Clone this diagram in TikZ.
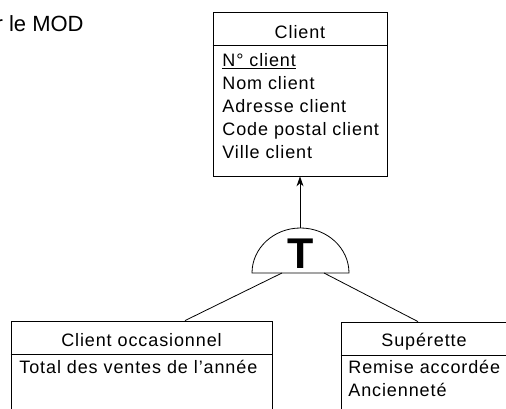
\documentclass[tikz,border=0pt]{standalone}
\usepackage{fontspec}
\setmainfont[LetterSpace=5]{Liberation Sans}
\newfontfamily\plainfont{Liberation Sans}
\usetikzlibrary{arrows.meta, positioning}

\tikzset{
  entite/.style={draw, line width=0.8pt, inner sep=0pt},
  texte/.style={anchor=base, inner sep=0pt, font=\fontsize{18}{23}\selectfont},
  attribut/.style={texte, anchor=base west},
}

\begin{document}
\begin{tikzpicture}[x=1pt, y=1pt, line width=0.8pt]
\useasboundingbox (0,0) rectangle (506,409);

% Title text
\node[anchor=base east, inner sep=0pt, font=\plainfont\fontsize{22}{22}\selectfont] (mod) at (84,377) {r le MOD};

% Draw client entity
\node[entite, minimum width=174pt, minimum height=164pt] (client) at (300,315) {};
\draw (client.west |- 0,364) -- (client.east |- 0,364);
\node[texte] (clientnom) at (300,370) {Client};
\node[attribut] (num) at (222,342) {\underline{N° client}};
\node[attribut] (nom) at (222,319) {Nom client};
\node[attribut] (adr) at (222,296) {Adresse client};
\node[attribut] (cp) at (222,273) {Code postal client};
\node[attribut] (ville) at (222,250) {Ville client};

% Draw totality symbol
\coordinate (dome) at (300.5,136);
\coordinate (dometop) at (300,181);
\draw ([xshift=-48.5pt]dome) arc[start angle=180, end angle=0, x radius=48.5, y radius=45] -- cycle;
\node[anchor=base, inner sep=0pt, font=\plainfont\bfseries\fontsize{43}{43}\selectfont] (tot) at (301,140) {T};
\draw[-{Stealth[length=10pt, width=7pt]}] (dometop) -- (client.south);

% Draw sub-entities
\node[entite, minimum width=261pt, minimum height=108pt] (occas) at (141.5,34) {};
\draw (occas.west |- 0,55) -- (occas.east |- 0,55);
\node[texte] (occasnom) at (141.5,62) {Client occasionnel};
\node[attribut] (total) at (19,35) {Total des ventes de l’année};

\node[entite, minimum width=167pt, minimum height=107pt] (supe) at (424.5,33.5) {};
\draw (supe.west |- 0,54) -- (supe.east |- 0,54);
\node[texte] (supenom) at (424,62) {Supérette};
\node[attribut] (remise) at (348,35) {Remise accordée};
\node[attribut] (anc) at (348,12) {Ancienneté};

% Draw links
\draw ([xshift=-18.5pt]dome) -- ([xshift=43.5pt]occas.north);
\draw ([xshift=23.5pt]dome) -- ([xshift=-6.5pt]supe.north);

\end{tikzpicture}
\end{document}
